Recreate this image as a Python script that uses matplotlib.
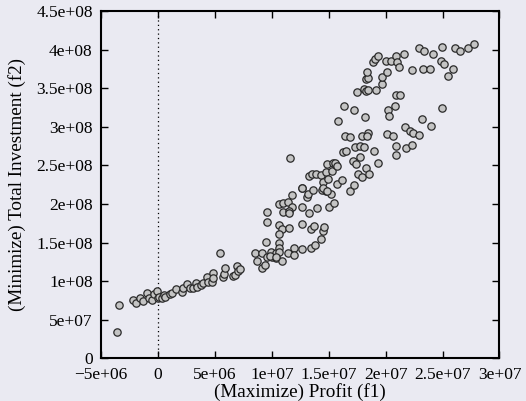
import numpy as np
import matplotlib
matplotlib.use("Agg")
import matplotlib.pyplot as plt
from matplotlib.ticker import FuncFormatter, MultipleLocator

plt.rcParams['font.family'] = ['Liberation Serif', 'DejaVu Serif']
plt.rcParams['font.size'] = 12

# Pareto front samples, both objectives in millions
profit_m = [
    -3.60, -3.43, -2.17, -1.96, -1.58, -1.35, -0.94, -0.76, -0.55, -0.33,
    -0.11, -0.03, 0.12, 0.32, 0.50, 0.64, 1.05, 1.23, 1.58, 2.08,
    2.22, 2.57, 2.81, 3.10, 3.34, 3.45, 3.75, 3.98, 4.33, 4.42,
    4.71, 4.80, 4.86, 5.45, 5.70, 5.80, 5.88, 6.61, 6.76, 6.91,
    7.05, 7.20,
    8.52, 8.67, 9.11, 9.16, 9.40, 9.60, 9.51, 9.55, 9.55, 9.90,
    9.99, 10.36, 10.36, 10.63, 10.63, 10.86, 10.66, 10.66, 10.66, 10.66,
    10.86, 10.98, 10.95, 11.45, 11.74, 11.51, 11.55, 11.51, 11.74, 11.59,
    11.45, 11.92, 11.95, 9.86, 10.34,
    12.62, 12.65, 12.65, 12.67, 13.11, 13.20, 13.61, 13.29, 13.41, 13.41,
    13.70, 13.79, 13.94, 14.33, 14.49, 14.58, 14.38, 14.78, 15.22, 15.05,
    15.46, 13.26, 13.53, 13.90, 14.35, 14.49, 14.73, 14.93, 15.31, 14.87,
    15.37, 15.66, 15.72, 16.19, 16.84, 17.19, 15.81, 12.62, 14.46, 14.87,
    16.34, 17.19, 18.15, 16.40, 16.89, 17.92, 18.47, 18.40, 16.22, 16.51,
    17.33, 17.74, 18.12, 18.97, 19.35, 17.14, 17.37, 17.72, 18.24, 17.56,
    17.89, 18.58, 15.55, 15.69,
    17.47, 18.12, 18.30, 18.45, 19.18, 19.70, 19.65, 18.27, 18.47, 18.38,
    20.10, 18.87, 19.08, 19.35, 20.06, 20.50, 20.95, 21.62, 21.02, 21.16,
    20.94, 21.30, 20.85, 20.18, 20.29,
    20.11, 20.63, 20.95, 20.92, 21.76, 22.30, 21.68, 22.12, 22.38, 22.89,
    22.30, 23.25, 23.87, 22.94, 23.40, 24.19, 24.98, 26.12, 26.57, 27.24,
    27.75, 24.90, 25.12, 25.90, 25.48, 24.97, 23.16, 24.01,
]
investment_m = [
    34.5, 68.7, 75.1, 72.0, 77.5, 74.8, 84.0, 78.0, 75.0, 83.0,
    87.6, 77.7, 79.8, 78.5, 82.0, 79.0, 83.0, 84.2, 89.4, 85.5,
    91.5, 96.5, 90.5, 90.7, 98.0, 92.5, 95.0, 97.5, 104.8, 99.3,
    99.3, 110.9, 104.0, 136.0, 105.7, 109.5, 117.2, 106.6, 108.0, 119.6,
    113.5, 115.7,
    136.0, 125.8, 136.8, 116.6, 120.9, 130.9, 151.1, 177.0, 189.0, 138.1,
    131.6, 136.0, 130.3, 199.9, 172.7, 167.1, 161.5, 149.5, 142.5, 138.1,
    125.7, 200.8, 189.9, 203.0, 196.4, 191.2, 187.9, 168.4, 211.6, 259.1,
    136.0, 143.5, 133.8, 132.5, 131.6,
    174.0, 141.2, 221.0, 195.6, 209.4, 212.9, 218.1, 187.9, 167.1, 143.3,
    171.4, 146.8, 195.1, 154.2, 164.9, 170.5, 218.1, 216.7, 212.9, 195.6,
    201.6, 236.6, 238.8, 238.8, 237.5, 228.8, 241.0, 232.3, 242.3, 251.8,
    253.4, 250.1, 225.8, 230.6, 216.7, 224.9, 307.1, 220.3, 220.3, 217.2,
    327.3, 321.3, 313.0, 287.5, 286.3, 288.4, 292.5, 288.2, 267.5, 268.0,
    273.6, 275.5, 274.2, 268.6, 252.7, 255.2, 251.6, 261.2, 246.2, 239.0,
    235.3, 238.2, 252.7, 249.2,
    345.0, 349.0, 346.3, 348.0, 347.6, 355.4, 364.0, 361.9, 363.6, 371.4,
    370.6, 384.3, 387.5, 391.7, 385.3, 385.3, 392.0, 393.9, 383.5, 377.6,
    340.5, 340.5, 327.5, 322.0, 314.0,
    290.2, 288.0, 274.6, 263.8, 272.9, 276.8, 300.1, 294.7, 291.5, 289.7,
    373.5, 374.6, 374.8, 402.0, 397.7, 394.7, 403.7, 402.3, 397.7, 402.6,
    406.8, 385.3, 381.2, 374.8, 366.2, 323.9, 310.3, 301.4,
]

f1 = np.array(profit_m) * 1e6
f2 = np.array(investment_m) * 1e6

bg = '#eaeaf2'
fig = plt.figure(figsize=(5.26, 4.01), dpi=100, facecolor=bg)
ax = fig.add_axes([0.192, 0.1065, 0.7576, 0.8661], facecolor=bg)

ax.axvline(0, color='black', linestyle=(0, (1, 2.5)), linewidth=0.9, zorder=1)
ax.scatter(f1, f2, s=28, facecolor='#c4c4c4', edgecolor='#2a2a2a',
           linewidth=0.9, zorder=3)

ax.set_xlim(-5e6, 3e7)
ax.set_ylim(0, 4.5e8)
ax.xaxis.set_major_locator(MultipleLocator(5e6))
ax.yaxis.set_major_locator(MultipleLocator(5e7))


def gp_fmt(v, pos):
    s = '%g' % v
    return s.replace('-', '\u2212')


ax.xaxis.set_major_formatter(FuncFormatter(gp_fmt))
ax.yaxis.set_major_formatter(FuncFormatter(gp_fmt))

ax.tick_params(direction='in', length=5, width=1, top=True, right=True,
               colors='black', labelsize=12.5)
ax.tick_params(axis='x', pad=6)
ax.tick_params(axis='y', pad=6)
for sp in ax.spines.values():
    sp.set_linewidth(1.5)
    sp.set_color('black')

ax.set_xlabel('(Maximize) Profit (f1)', fontsize=13.8, labelpad=0)
ax.set_ylabel('(Minimize) Total Investment (f2)', fontsize=13.8, labelpad=7)

fig.savefig('out.png', dpi=100, facecolor=bg)
